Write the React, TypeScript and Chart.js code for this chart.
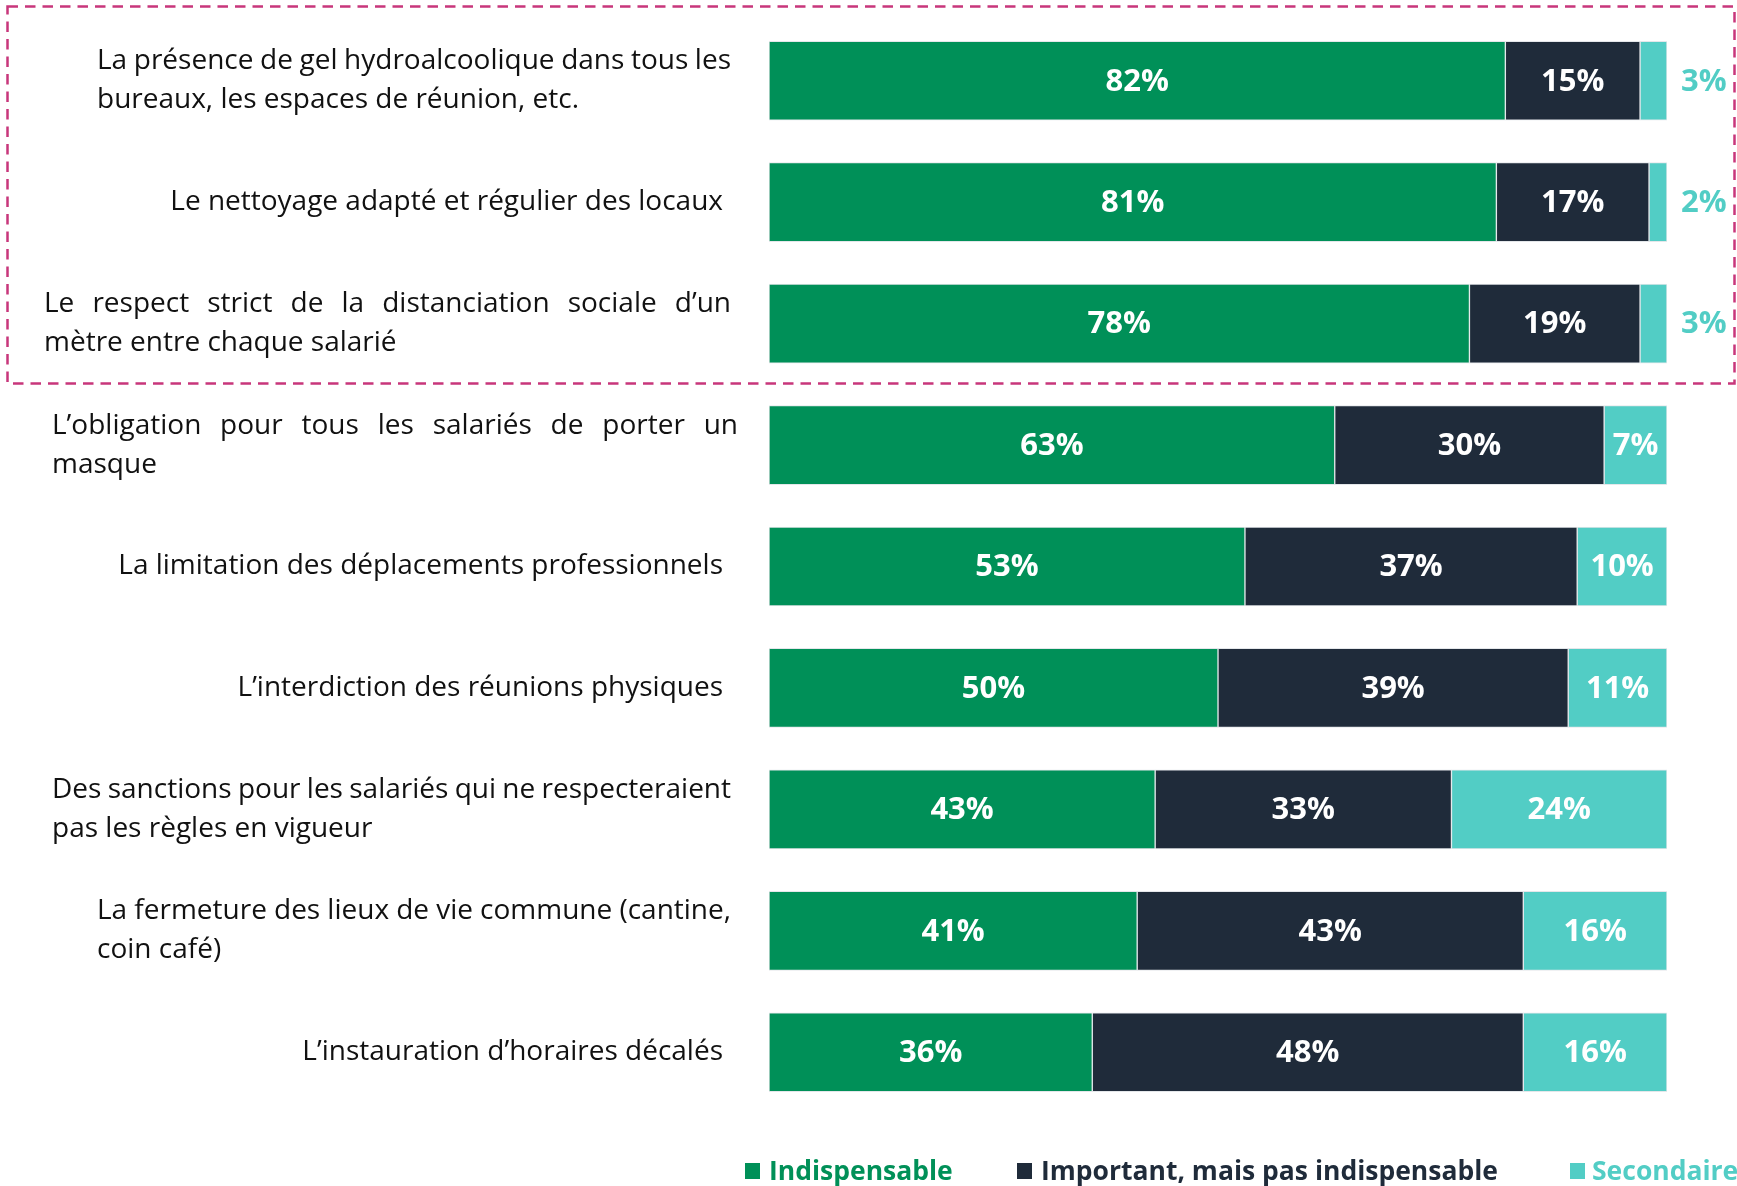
import React, { useEffect, useRef } from "react";
import { Chart, registerables } from "chart.js";

Chart.register(...registerables);

// ---------- DATA ----------
const categories: string[][] = [
  ["La présence de gel hydroalcoolique dans tous les", "bureaux, les espaces de réunion, etc."],
  ["Le nettoyage adapté et régulier des locaux"],
  ["Le respect strict de la distanciation sociale d’un", "mètre entre chaque salarié"],
  ["L’obligation pour tous les salariés de porter un", "masque"],
  ["La limitation des déplacements professionnels"],
  ["L’interdiction des réunions physiques"],
  ["Des sanctions pour les salariés qui ne respecteraient", "pas les règles en vigueur"],
  ["La fermeture des lieux de vie commune (cantine,", "coin café)"],
  ["L’instauration d’horaires décalés"],
];

const indispensable: number[] = [82, 81, 78, 63, 53, 50, 43, 41, 36];
const important: number[] = [15, 17, 19, 30, 37, 39, 33, 43, 48];
const secondaire: number[] = [3, 2, 3, 7, 10, 11, 24, 16, 16];

const seriesNames: string[] = ["Indispensable", "Important, mais pas indispensable", "Secondaire"];

// ---------- STYLE / LAYOUT ----------
const COLORS = ["#009058", "#1F2B3A", "#52CDC5"];
const DASH_COLOR = "#C8367B";
const LABEL_FONT = "28px 'Open Sans'";
const VALUE_FONT = "bold 31px 'Open Sans'";
const LEGEND_FONT = "bold 26.5px 'Open Sans'";
// per-row text block: left edge, right edge (px)
const LABEL_LAYOUT = [
  { left: 97, right: 731 },
  { left: 0, right: 723 },
  { left: 44, right: 731 },
  { left: 52, right: 738 },
  { left: 0, right: 723 },
  { left: 0, right: 723 },
  { left: 52, right: 731 },
  { left: 97, right: 731 },
  { left: 0, right: 723 },
];
const LINE_GAP = 39;
const LEGEND_POS = [
  { sq: 745, tx: 769 },
  { sq: 1017, tx: 1041 },
  { sq: 1570, tx: 1592 },
];
const LEGEND_Y = 1171;

function drawJustified(ctx: CanvasRenderingContext2D, text: string, left: number, right: number, y: number) {
  const words = text.split(" ");
  if (words.length < 2) {
    ctx.textAlign = "left";
    ctx.fillText(text, left, y);
    return;
  }
  const widths = words.map((w) => ctx.measureText(w).width);
  const total = widths.reduce((a, b) => a + b, 0);
  const gap = (right - left - total) / (words.length - 1);
  let x = left;
  ctx.textAlign = "left";
  words.forEach((w, i) => {
    ctx.fillText(w, x, y);
    x += widths[i] + gap;
  });
}

const customPlugin = {
  id: "customDraw",
  afterDatasetsDraw(chart: any) {
    const ctx: CanvasRenderingContext2D = chart.ctx;
    const xScale = chart.scales.x;
    ctx.save();
    ctx.font = VALUE_FONT;
    ctx.textBaseline = "middle";
    chart.data.datasets.forEach((ds: any, di: number) => {
      const meta = chart.getDatasetMeta(di);
      meta.data.forEach((el: any, i: number) => {
        const v = ds.data[i];
        const txt = v + "%";
        if (v < 5) {
          ctx.fillStyle = COLORS[2];
          ctx.textAlign = "left";
          ctx.fillText(txt, xScale.getPixelForValue(100) + 14, el.y + 1);
        } else {
          ctx.fillStyle = "#FFFFFF";
          ctx.textAlign = "center";
          ctx.fillText(txt, (el.x + el.base) / 2, el.y + 1);
        }
      });
    });
    ctx.restore();
  },
  afterDraw(chart: any) {
    const ctx: CanvasRenderingContext2D = chart.ctx;
    const yScale = chart.scales.y;
    ctx.save();
    // category labels
    ctx.font = LABEL_FONT;
    ctx.fillStyle = "#111111";
    ctx.textBaseline = "middle";
    categories.forEach((lines, i) => {
      const cy = yScale.getPixelForValue(i);
      const lay = LABEL_LAYOUT[i];
      if (lines.length === 1) {
        ctx.textAlign = "right";
        ctx.fillText(lines[0], lay.right, cy);
      } else {
        const startY = cy - ((lines.length - 1) * LINE_GAP) / 2;
        lines.forEach((ln, li) => {
          const y = startY + li * LINE_GAP;
          if (li < lines.length - 1) {
            drawJustified(ctx, ln, lay.left, lay.right, y);
          } else {
            ctx.textAlign = "left";
            ctx.fillText(ln, lay.left, y);
          }
        });
      }
    });
    // dashed box around first three rows
    ctx.strokeStyle = DASH_COLOR;
    ctx.lineWidth = 2.5;
    ctx.setLineDash([10.5, 7]);
    ctx.strokeRect(7.5, 6.5, 1727, 377);
    ctx.setLineDash([]);
    // legend
    ctx.font = LEGEND_FONT;
    ctx.textAlign = "left";
    ctx.textBaseline = "alphabetic";
    seriesNames.forEach((name, i) => {
      const p = LEGEND_POS[i];
      ctx.fillStyle = COLORS[i];
      ctx.fillRect(p.sq, LEGEND_Y - 8, 15, 16);
      ctx.fillText(name, p.tx, LEGEND_Y + 9);
    });
    ctx.restore();
  },
};

export default function App() {
  const canvasRef = useRef<HTMLCanvasElement | null>(null);

  useEffect(() => {
    if (!canvasRef.current) return;
    const border = { left: 1, right: 1, top: 1, bottom: 1 };
    const chart = new Chart(canvasRef.current, {
      type: "bar",
      data: {
        labels: categories.map((c) => c.join(" ")),
        datasets: [indispensable, important, secondaire].map((arr, i) => ({
          label: seriesNames[i],
          data: arr,
          backgroundColor: COLORS[i],
          borderColor: "#E4E7EA",
          borderWidth: border,
          borderSkipped: false,
          barThickness: 79,
        })),
      },
      options: {
        indexAxis: "y",
        responsive: false,
        animation: false,
        layout: { padding: { left: 769, right: 70, top: 20, bottom: 73 } },
        scales: {
          x: { stacked: true, min: 0, max: 100, display: false },
          y: { stacked: true, display: false },
        },
        plugins: {
          legend: { display: false },
          tooltip: { enabled: false },
        },
      } as any,
      plugins: [customPlugin],
    });
    return () => chart.destroy();
  }, []);

  return (
    <div style={{ position: "absolute", left: 0, top: 0, width: 1737, height: 1186, background: "#fff" }}>
      <canvas ref={canvasRef} width={1737} height={1186} style={{ width: 1737, height: 1186, display: "block" }} />
    </div>
  );
}
